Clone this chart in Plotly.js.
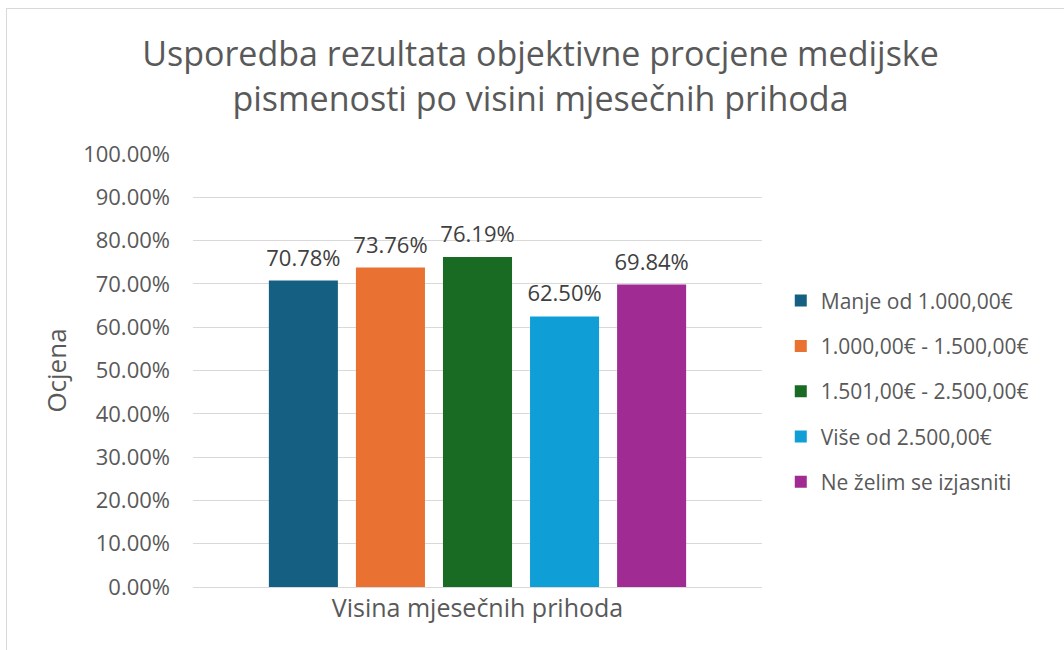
<!DOCTYPE html>
<html><head><meta charset="utf-8">
<script src="https://cdn.plot.ly/plotly-3.0.1.min.js"></script>
<style>
html,body{margin:0;padding:0;background:#fff;overflow:hidden}
#frame{position:absolute;left:6px;top:8px;width:2000px;height:2000px;border:1px solid #d9d9d9;box-sizing:border-box}
#chart{position:absolute;left:0;top:0;width:1064px;height:650px}
</style></head><body>
<div id="frame"></div>
<div id="chart"></div>
<script>
const categories = ["Visina mjesečnih prihoda"];
const seriesNames = ["Manje od 1.000,00€", "1.000,00€ - 1.500,00€", "1.501,00€ - 2.500,00€", "Više od 2.500,00€", "Ne želim se izjasniti"];
const seriesValues = [0.7078, 0.7376, 0.7619, 0.6250, 0.6984];
const colors = ["#156082", "#E97132", "#196B24", "#0F9ED5", "#A02B93"];

const font = "'Open Sans', 'Noto Sans', sans-serif";
const traces = seriesNames.map((n, i) => ({
  type: "bar",
  name: n,
  x: categories,
  y: [seriesValues[i]],
  marker: {color: colors[i]},
  text: [(seriesValues[i]*100).toFixed(2) + "%"],
  textposition: "outside",
  constraintext: "none",
  textfont: {size: 22, color: "#404040", family: font},
  cliponaxis: false,
  legendgroup: "g" + i,
  hoverinfo: "none"
}));

const layout = {
  width: 1064, height: 650,
  paper_bgcolor: "rgba(0,0,0,0)",
  plot_bgcolor: "rgba(0,0,0,0)",
  margin: {l: 193, r: 302, t: 154, b: 63},
  font: {family: font, color: "#595959"},
  title: {
    text: "Usporedba rezultata objektivne procjene medijske<br>pismenosti po visini mjesečnih prihoda",
    font: {size: 34, color: "#595959", family: font},
    x: 0.508, xref: "container", xanchor: "center",
    y: 0.898, yref: "container", yanchor: "middle"
  },
  barmode: "group",
  bargap: 0.235,
  bargroupgap: 0.207,
  showlegend: true,
  legend: {
    x: 1.033, xanchor: "left", y: 0.708, yanchor: "top",
    font: {size: 21, color: "#595959", family: font},
    tracegroupgap: 15,
    itemwidth: 30
  },
  xaxis: {
    type: "category",
    showgrid: false, showline: false, zeroline: false,
    ticks: "",
    ticklabelstandoff: 4,
    tickfont: {size: 25, color: "#595959", family: font},
    automargin: false
  },
  yaxis: {
    range: [0, 1], dtick: 0.1, tickformat: ".2%",
    showgrid: true, gridcolor: "#d9d9d9", gridwidth: 1,
    zeroline: true, zerolinecolor: "#d9d9d9", zerolinewidth: 1,
    showline: false, ticks: "",
    ticklabelstandoff: 22,
    tickfont: {size: 22, color: "#595959", family: font},
    title: {text: "Ocjena", font: {size: 26, color: "#595959", family: font}, standoff: 9},
    automargin: false
  }
};
Plotly.newPlot("chart", traces, layout, {displayModeBar: false, staticPlot: true}).then(() => {
  document.querySelectorAll("#chart text.bartext").forEach(t => {
    const tr = t.getAttribute("transform") || "";
    t.setAttribute("transform", "translate(0,-6) " + tr);
  });
});
</script>
</body></html>
